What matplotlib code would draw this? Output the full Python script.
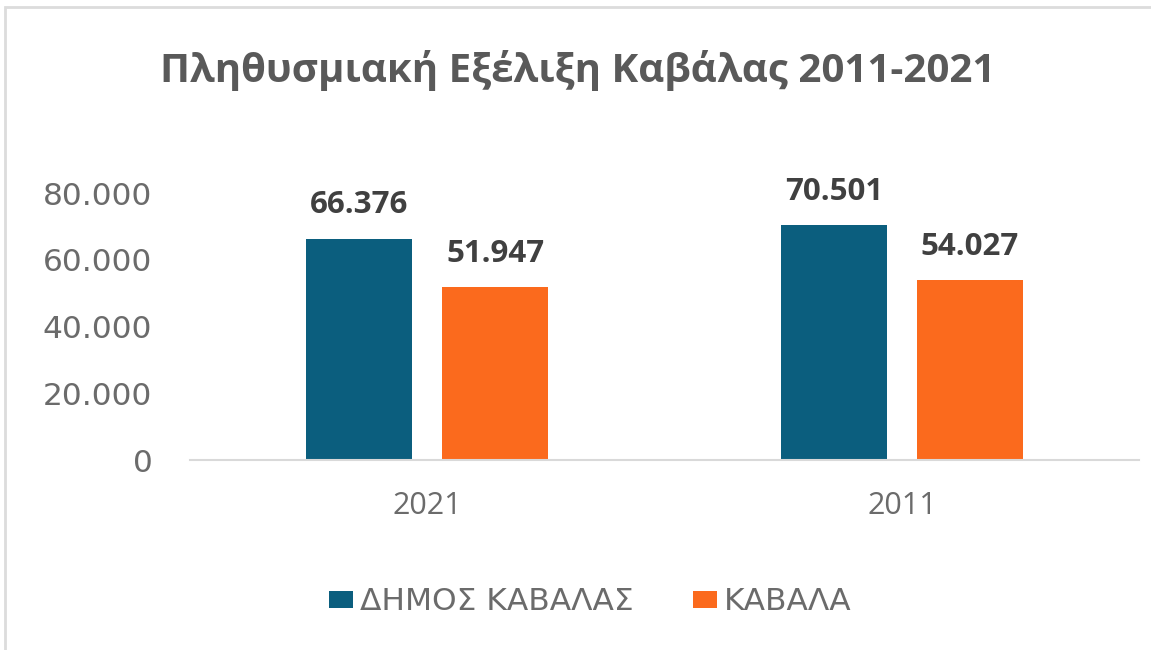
import matplotlib.pyplot as plt
from matplotlib.patches import Rectangle
import numpy as np

years = ["2021", "2011"]
dimos = [66376, 70501]
kavala = [51947, 54027]
series_names = ["ΔΗΜΟΣ ΚΑΒΑΛΑΣ", "ΚΑΒΑΛΑ"]
yticks = [0, 20000, 40000, 60000, 80000]

TEAL = "#0b5e7e"
ORANGE = "#fb6a1d"


def fmt(v):
    return "{:,}".format(v).replace(",", ".")


fig = plt.figure(figsize=(11.51, 6.5), dpi=100)
ax = fig.add_axes([0.165, 0.292, 0.825, 0.411])

# faint frame of the original screenshot
fig.patches.append(Rectangle((5 / 1151, -0.1), 1.2, 1 - 7 / 650 + 0.1,
                             transform=fig.transFigure, fill=False,
                             edgecolor="#dcdcdc", linewidth=2))

x = np.arange(len(years))
w = 0.223
off = 0.143
b1 = ax.bar(x - off, dimos, w, color=TEAL, label=series_names[0])
b2 = ax.bar(x + off, kavala, w, color=ORANGE, label=series_names[1])

for bars, vals in [(b1, dimos), (b2, kavala)]:
    for r, v in zip(bars, vals):
        ax.annotate(fmt(v), (r.get_x() + r.get_width() / 2, v),
                    xytext=(0, 13), textcoords="offset points",
                    ha="center", va="bottom", fontsize=22.5,
                    fontweight="bold", family="Open Sans",
                    color="#404040", annotation_clip=False)

ax.set_xlim(-0.5, 1.5)
ax.set_ylim(0, 80000)
ax.set_yticks(yticks)
ax.set_yticklabels([fmt(t) for t in yticks])
for lab in ax.get_yticklabels():
    lab.set_fontfamily("DejaVu Sans")
    lab.set_fontsize(22.5)
    lab.set_color("#6b6b6b")
ax.set_xticks(x)
ax.set_xticklabels(years)
for lab in ax.get_xticklabels():
    lab.set_fontfamily("Open Sans")
    lab.set_fontsize(22)
    lab.set_color("#6b6b6b")
ax.tick_params(length=0)
ax.tick_params(axis="y", pad=27)
ax.tick_params(axis="x", pad=22)
for s in ["top", "right", "left"]:
    ax.spines[s].set_visible(False)
ax.spines["bottom"].set_color("#d9d9d9")
ax.spines["bottom"].set_linewidth(1.5)

fig.text(0.502, 0.892, "Πληθυσμιακή Εξέλιξη Καβάλας 2011-2021",
         ha="center", va="center", fontsize=29, fontweight="bold",
         family="Open Sans", color="#595959")

leg = fig.legend(loc="center", bbox_to_anchor=(0.513, 0.074), ncol=2,
                 frameon=False, prop={"family": "DejaVu Sans", "size": 22.5},
                 handlelength=0.77, handleheight=0.48, handletextpad=0.22,
                 columnspacing=1.9)
for t in leg.get_texts():
    t.set_color("#6b6b6b")

fig.savefig("out.png", dpi=100)
